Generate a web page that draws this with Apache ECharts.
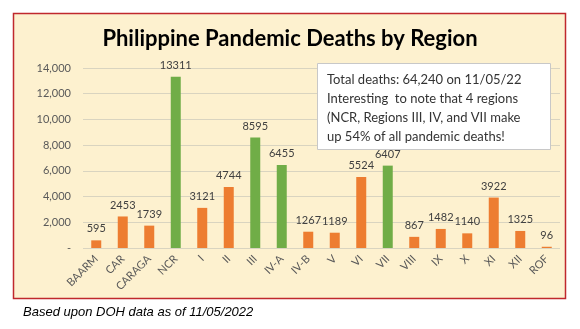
<!DOCTYPE html>
<html><head><meta charset="utf-8">
<script src="https://cdn.jsdelivr.net/npm/echarts@6/dist/echarts.min.js"></script>
<style>html,body{margin:0;padding:0;background:#fff}#c{width:580px;height:329px}</style>
</head><body><div id="c"></div>
<script>
const categories = ['BAARM','CAR','CARAGA','NCR','I','II','III','IV-A','IV-B','V','VI','VII','VIII','IX','X','XI','XII','ROF'];
const deaths = [595,2453,1739,13311,3121,4744,8595,6455,1267,1189,5524,6407,867,1482,1140,3922,1325,96];
const highlighted = ['NCR','III','IV-A','VII'];
const yTicks = [0,2000,4000,6000,8000,10000,12000,14000];
const titleText = 'Philippine Pandemic Deaths by Region';
const noteLines = ['Total deaths: 64,240 on 11/05/22','Interesting  to note that 4 regions','(NCR, Regions III, IV, and VII make','up 54% of all pandemic deaths!'];
const footnote = 'Based upon DOH data as of 11/05/2022';

const chart = echarts.init(document.getElementById('c'));
chart.setOption({
  animation:false,
  backgroundColor:'#fff',
  graphic:[
    {type:'rect',z:-10,shape:{x:13.5,y:13.5,width:552,height:285},style:{fill:'#FDF1CF',stroke:'#C0282D',lineWidth:1.5}},
    {type:'text',left:'center',top:28,style:{text:titleText,font:'bold 22px Lato',fill:'#000'}},
    {type:'rect',z:10,shape:{x:317.5,y:63.5,width:233,height:86},style:{fill:'#fff',stroke:'#C8C8C8',lineWidth:1}},
    {type:'text',z:11,left:327,top:70,style:{text:noteLines.join('\n'),font:'13px Lato',lineHeight:19,fill:'#333'}},
    {type:'text',left:23,top:306,style:{text:footnote,font:'italic 13px "Liberation Sans"',fill:'#000'}}
  ],
  grid:{left:83,right:20,top:68,bottom:81},
  xAxis:{type:'category',data:categories,
    axisLine:{show:false},axisTick:{show:false},
    axisLabel:{rotate:45,color:'#595959',fontSize:11,fontFamily:'Lato',interval:0,margin:9}},
  yAxis:{type:'value',min:yTicks[0],max:yTicks[yTicks.length-1],interval:2000,
    axisLine:{show:false},axisTick:{show:false},
    splitLine:{lineStyle:{color:'#D9D4C0',width:1}},
    axisLabel:{color:'#595959',fontSize:11,fontFamily:'Lato',margin:12,
      formatter:v=>v===0?'-':v.toLocaleString('en-US')}},
  series:[{type:'bar',barWidth:10,
    data:deaths.map((v,i)=>({value:v,itemStyle:{color:highlighted.includes(categories[i])?'#70AD47':'#ED7D31'}})),
    label:{show:true,position:'top',distance:6,color:'#404040',fontSize:11,fontFamily:'Lato'}}]
});
</script></body></html>
